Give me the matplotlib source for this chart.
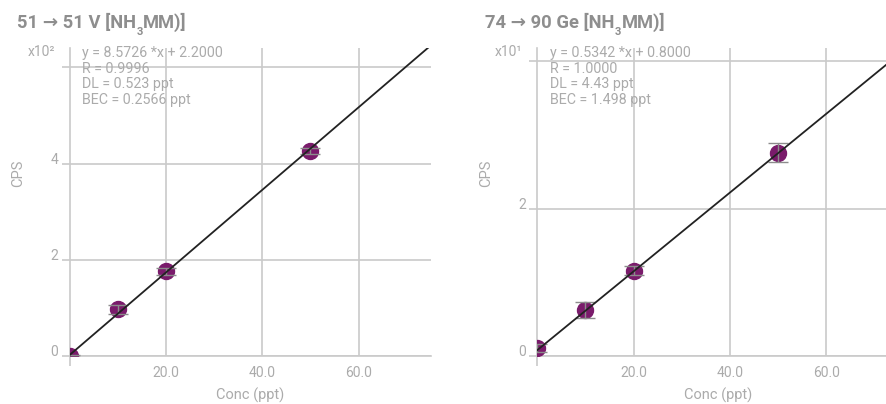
import matplotlib.pyplot as plt
import numpy as np

plt.rcParams['font.family'] = ['Roboto', 'DejaVu Sans']

# standards (ppt)
conc = [0, 10, 20, 50]

# 51 V, CPS in units of 10^2
v_cps = [0.0, 0.97, 1.76, 4.26]
v_err = [0.02, 0.10, 0.07, 0.07]
v_yticks = [0, 2, 4, 6]
v_yticklabels = ['0', '2', '4', '']

# 74 Ge, CPS in units of 10^1
ge_cps = [0.11, 0.625, 1.16, 2.76]
ge_err = [0.05, 0.105, 0.055, 0.13]
ge_yticks = [0, 2, 4]
ge_yticklabels = ['0', '2', '']

xticks = [20, 40, 60]
xticklabels = ['20.0', '40.0', '60.0']

GRID = '#CACACA'
TXT = '#ABABAB'
TITLE = '#8E8E8E'
MARK = '#7A1B6B'

panels = [
    dict(title=('51 → 51 V [NH', '3', 'MM)]'), cps=v_cps, err=v_err,
         slope=8.5726, icpt=2.2000, scale=100, mult='x10²', ymax=6.4,
         yticks=v_yticks, ylabels=v_yticklabels,
         stats=['y = 8.5726 *x + 2.2000', 'R = 0.9996', 'DL = 0.523 ppt', 'BEC = 0.2566 ppt'],
         left=69.7, title_x=17),
    dict(title=('74 → 90 Ge [NH', '3', 'MM)]'), cps=ge_cps, err=ge_err,
         slope=0.5342, icpt=0.8000, scale=10, mult='x10¹', ymax=4.18,
         yticks=ge_yticks, ylabels=ge_yticklabels,
         stats=['y = 0.5342 *x + 0.8000', 'R = 1.0000', 'DL = 4.43 ppt', 'BEC = 1.498 ppt'],
         left=537.3, title_x=485),
]

W, H = 887, 404
fig = plt.figure(figsize=(W / 100, H / 100), dpi=100)

ax_w = 361
ax_bot, ax_top = 356, 48

for p in panels:
    ax = fig.add_axes([p['left'] / W, (H - ax_bot) / H, ax_w / W, (ax_bot - ax_top) / H])
    ax.set_xlim(0, 75)
    ax.set_ylim(0, p['ymax'])

    # calibration fit line
    lx = np.array([0, 75])
    ly = (p['slope'] * lx + p['icpt']) / p['scale']
    ax.plot(lx, ly, color='#222222', lw=1.3, zorder=5)

    ax.plot(conc, p['cps'], 'o', ms=11.5, color=MARK, mec=MARK, zorder=3)
    ax.errorbar(conc, p['cps'], yerr=p['err'], fmt='none', ecolor='#8C8C8C',
                elinewidth=1, capsize=7, capthick=1, zorder=4)

    for s in ['top', 'right']:
        ax.spines[s].set_visible(False)
    for s in ['left', 'bottom']:
        ax.spines[s].set_color(GRID)
        ax.spines[s].set_linewidth(1.2)

    ax.set_xticks(xticks)
    ax.set_xticklabels(xticklabels)
    ax.set_xticks([0], minor=True)
    ax.set_yticks(p['yticks'])
    ax.set_yticklabels([])
    ax.tick_params(axis='x', which='major', length=0, pad=7, labelsize=10, labelcolor=TXT)
    ax.tick_params(axis='x', which='minor', length=7, width=1.2, color=GRID)
    ax.tick_params(axis='y', length=6, width=1.2, color=GRID)
    ax.grid(True, which='major', color=GRID, lw=1.2)
    ax.set_axisbelow(True)

    # y labels sit on their grid lines (baseline aligned)
    for val, lab in zip(p['yticks'], p['ylabels']):
        ax.text(-0.032, val, lab, transform=ax.get_yaxis_transform(),
                ha='right', va='baseline', fontsize=10, color=TXT)

    ax.text(-0.041, (ax_bot - 52) / (ax_bot - ax_top), p['mult'], transform=ax.transAxes,
            ha='right', va='center', fontsize=10, color=TXT)
    ax.text(0.034, 1.005, '\n'.join(p['stats']), transform=ax.transAxes,
            ha='left', va='top', fontsize=10.3, color=TXT, linespacing=1.13, zorder=6)

    ax.text(-0.142, 0.594, 'CPS', transform=ax.transAxes, rotation=90,
            ha='center', va='center', fontsize=10.5, color=TXT)
    ax.text(0.5, -0.127, 'Conc (ppt)', transform=ax.transAxes,
            ha='center', va='center', fontsize=10.5, color=TXT)

    # title with subscript 3, built from three pieces
    main, sub, rest = p['title']
    t1 = fig.text(p['title_x'] / W, (H - 28) / H, main, ha='left', va='baseline',
                  fontsize=13.2, fontweight='bold', color=TITLE)
    t2 = ax.annotate(sub, xy=(1, 0), xycoords=t1, xytext=(0.3, -3.5),
                     textcoords='offset points', ha='left', va='bottom',
                     fontsize=8, fontweight='bold', color=TITLE, annotation_clip=False)
    ax.annotate(rest, xy=(1, 0), xycoords=(t2, t1), xytext=(0.2, 0),
                textcoords='offset points', ha='left', va='bottom',
                fontsize=13.2, fontweight='bold', color=TITLE, annotation_clip=False)

fig.savefig('out.png', dpi=100)
